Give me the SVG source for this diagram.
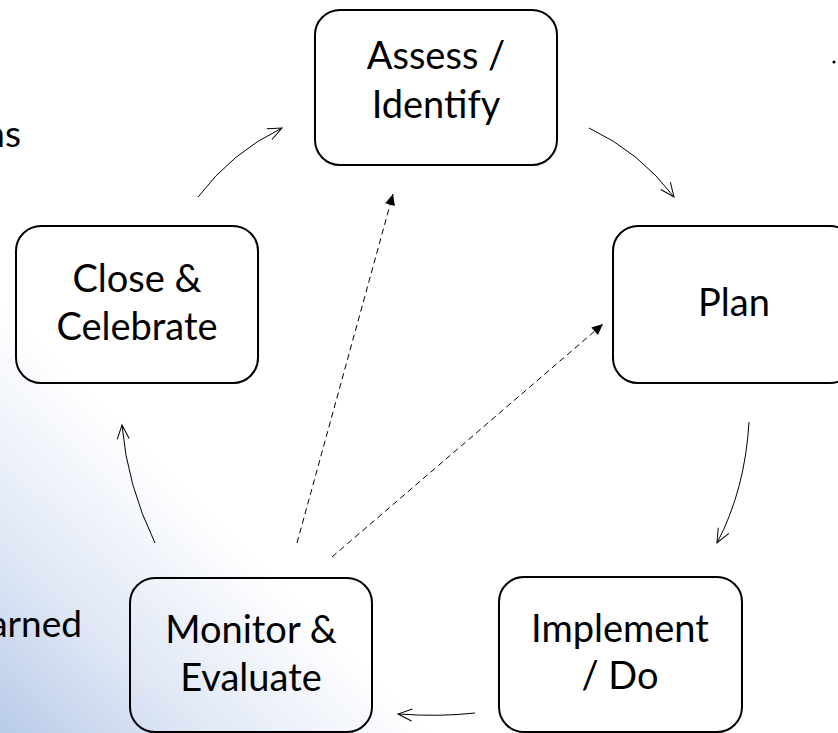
<svg xmlns="http://www.w3.org/2000/svg" width="838" height="733" viewBox="0 0 838 733">
<defs>
<linearGradient id="bg" gradientUnits="userSpaceOnUse" x1="0" y1="733" x2="215" y2="515">
<stop offset="0" stop-color="#b9cbe9"/>
<stop offset="0.45" stop-color="#dfe7f5"/>
<stop offset="1" stop-color="#ffffff"/>
</linearGradient>
<marker id="open" viewBox="-16 -10 20 20" markerWidth="20" markerHeight="20" refX="0" refY="0" orient="auto" markerUnits="userSpaceOnUse">
<path d="M-14,-6 L0,0 L-14,6" fill="none" stroke="#000" stroke-width="1"/>
</marker>
<marker id="solid" viewBox="-12 -6 14 12" markerWidth="14" markerHeight="12" refX="0" refY="0" orient="auto" markerUnits="userSpaceOnUse">
<path d="M-11,-5 L0,0 L-11,5 Z" fill="#000"/>
</marker>
</defs>
<style>
.box{fill:none;stroke:#000;stroke-width:2}
.lbl{font-family:Lato,"Open Sans",sans-serif;font-size:38px;fill:#000;text-anchor:middle}
.side{font-family:Lato,"Open Sans",sans-serif;font-size:37px;fill:#000;text-anchor:end}
.cur{fill:none;stroke:#000;stroke-width:1;marker-end:url(#open)}
.dash{fill:none;stroke:#000;stroke-width:1;stroke-dasharray:6 4;marker-end:url(#solid)}
</style>
<rect x="0" y="0" width="838" height="733" fill="#ffffff"/>
<rect x="0" y="0" width="838" height="733" fill="url(#bg)"/>
<text class="side" x="21" y="147">ns</text>
<text class="side" x="82" y="637">arned</text>
<circle cx="834" cy="62" r="1.6" fill="#000"/>
<g id="connectors">
<path class="cur" d="M589,128 Q640,152 674,197"/>
<path class="cur" d="M749,422 Q745,490 717,543"/>
<path class="cur" d="M475,713 Q440,717 398,714"/>
<path class="cur" d="M155,543 Q127,485 122,425"/>
<path class="cur" d="M198,197 Q232,152 282,128"/>
<path class="dash" d="M297,543 L393,194"/>
<path class="dash" d="M332,557 L603,324"/>
</g>
<g id="assess">
<rect class="box" x="315" y="10" width="242" height="155" rx="25"/>
<text class="lbl" x="436" y="69">Assess /</text>
<text class="lbl" x="436" y="118">Identify</text>
</g>
<g id="plan">
<rect class="box" x="613" y="226" width="242" height="157" rx="25"/>
<text class="lbl" x="734" y="316">Plan</text>
</g>
<g id="implement">
<rect class="box" x="499" y="577" width="243" height="155" rx="25"/>
<text class="lbl" x="620" y="642">Implement</text>
<text class="lbl" x="620" y="689">/ Do</text>
</g>
<g id="monitor">
<rect class="box" x="130" y="578" width="242" height="154" rx="25"/>
<text class="lbl" x="251" y="643">Monitor &amp;</text>
<text class="lbl" x="251" y="691">Evaluate</text>
</g>
<g id="close">
<rect class="box" x="16" y="226" width="242" height="157" rx="25"/>
<text class="lbl" x="137" y="292">Close &amp;</text>
<text class="lbl" x="137" y="340">Celebrate</text>
</g>
</svg>
